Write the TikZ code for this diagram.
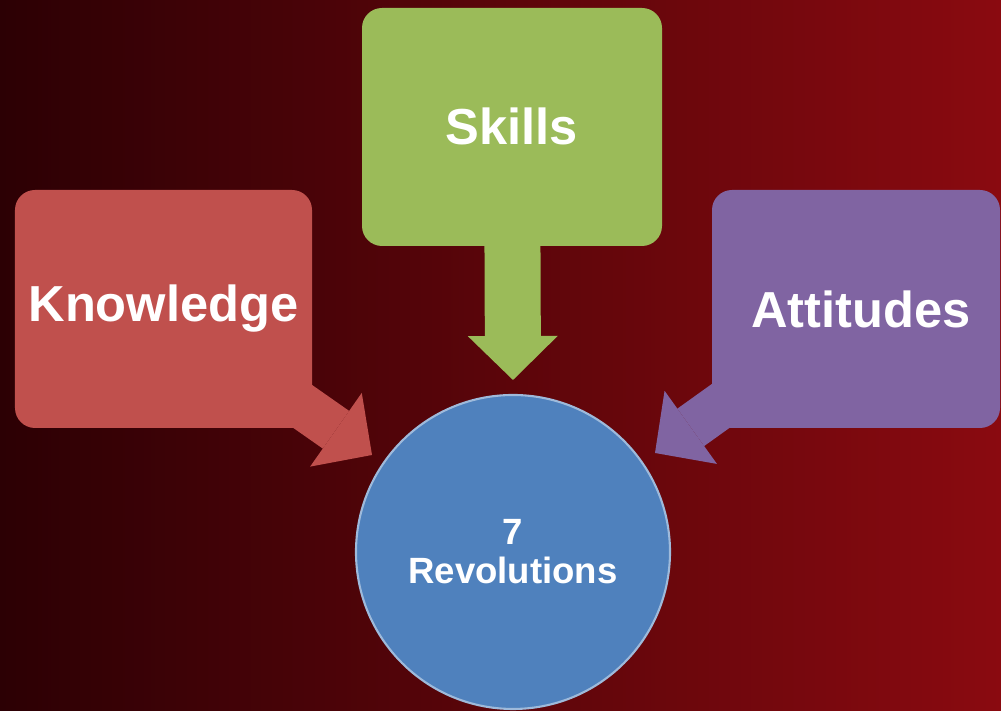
\documentclass[tikz,border=0pt]{standalone}
\usepackage{fontspec}
\setmainfont{Liberation Sans}
\usetikzlibrary{arrows.meta}

\definecolor{bgleft}{HTML}{2C0004}
\definecolor{bgright}{HTML}{8A0A10}
\definecolor{knowred}{HTML}{C0504D}
\definecolor{skillgreen}{HTML}{9BBB59}
\definecolor{attpurple}{HTML}{8064A2}
\definecolor{revblue}{HTML}{4F81BD}

\pgfdeclarelayer{bg}
\pgfdeclarelayer{arr}
\pgfsetlayers{bg,arr,main}

\begin{document}
\begin{tikzpicture}[
  box/.style={rounded corners=0.2cm, minimum height=2.38cm, inner sep=0pt,
    text=white, font=\bfseries\fontsize{14.4}{16}\selectfont},
  blockarrow/.style={line width=#1, line cap=butt,
    -{Triangle[width=0.9cm,length=0.44cm,line width=0pt]}}
]

\useasboundingbox (0,0) rectangle (10.01,7.11);
\begin{pgfonlayer}{bg}
\shade[left color=bgleft, right color=bgright] (0,0) rectangle (10.01,7.11);
\end{pgfonlayer}

\node[box, fill=knowred, minimum width=2.97cm] (knowledge) at (1.635,4.02) {\raisebox{-0.04cm}{Knowledge}};
\node[box, fill=skillgreen, minimum width=3.00cm] (skills) at (5.12,5.84) {\raisebox{0.02cm}{Skills}};
\node[box, fill=attpurple, minimum width=2.88cm] (attitudes) at (8.56,4.02) {\hspace{0.1cm}\raisebox{-0.02cm}{Attitudes}};

\node[circle, fill=revblue, draw=revblue!55!white, line width=0.6pt,
  minimum size=3.14cm, inner sep=0pt, align=center, text=white,
  font=\bfseries\fontsize{10.4}{11.1}\selectfont] (rev) at (5.13,1.59) {7\\Revolutions};

\coordinate (ktip) at (3.72,2.56);
\coordinate (stip) at (5.13,3.31);
\coordinate (atip) at (6.55,2.58);

\begin{pgfonlayer}{arr}
\draw[blockarrow=0.46cm, knowred] (knowledge.center) -- (ktip);
\draw[blockarrow=0.56cm, skillgreen] (skills.center) -- (stip);
\draw[blockarrow=0.46cm, attpurple] (attitudes.center) -- (atip);
\end{pgfonlayer}

\end{tikzpicture}
\end{document}
